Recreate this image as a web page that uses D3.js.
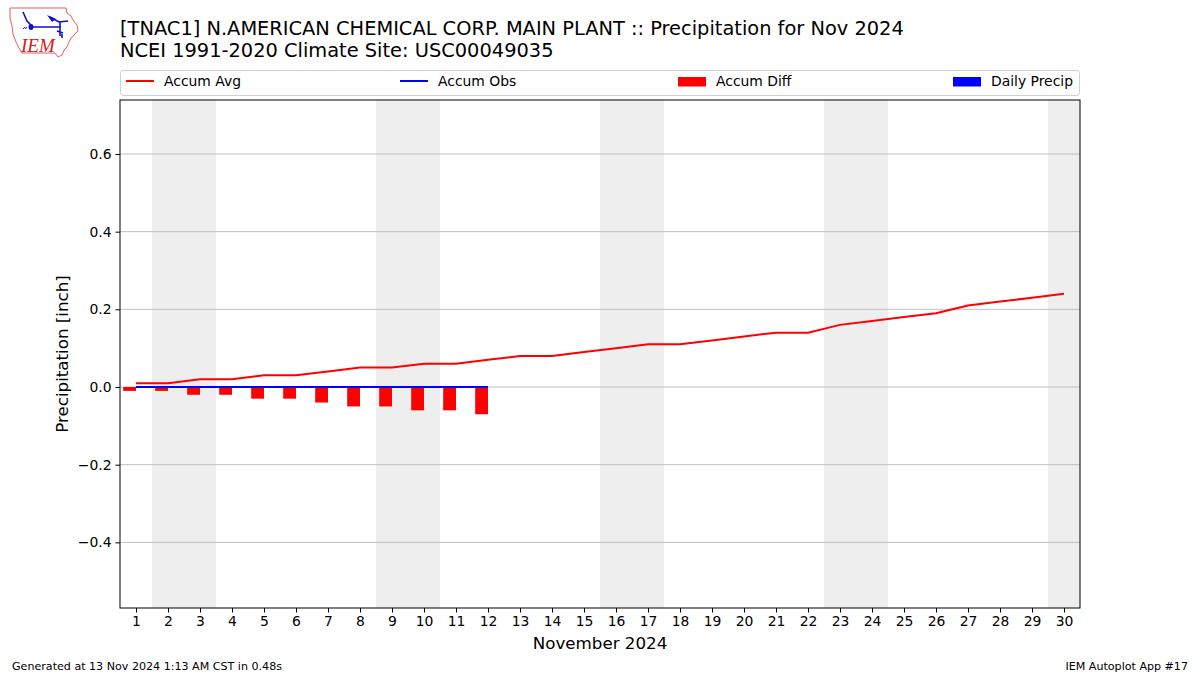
<!DOCTYPE html>
<html><head><meta charset="utf-8">
<script src="https://cdn.jsdelivr.net/npm/d3@7"></script>
<style>body{margin:0;background:#fff;}svg{display:block;font-family:"DejaVu Sans",sans-serif;}</style>
</head><body>
<svg id="c" width="1200" height="675"></svg>
<script>
const days = d3.range(1, 31);
const accumAvg = [0.01,0.01,0.02,0.02,0.03,0.03,0.04,0.05,0.05,0.06,0.06,0.07,0.08,0.08,0.09,0.10,0.11,0.11,0.12,0.13,0.14,0.14,0.16,0.17,0.18,0.19,0.21,0.22,0.23,0.24];
const obsDays = d3.range(1, 13);
const accumObs = [0,0,0,0,0,0,0,0,0,0,0,0];
const accumDiff = [-0.01,-0.01,-0.02,-0.02,-0.03,-0.03,-0.04,-0.05,-0.05,-0.06,-0.06,-0.07];
const dailyPrecip = [0,0,0,0,0,0,0,0,0,0,0,0];
const weekendDays = [2,3,9,10,16,17,23,24,30];
const yTicks = [-0.4,-0.2,0.0,0.2,0.4,0.6];
const titleLines = ["[TNAC1] N.AMERICAN CHEMICAL CORP. MAIN PLANT :: Precipitation for Nov 2024","NCEI 1991-2020 Climate Site: USC00049035"];

const svg = d3.select("#c");
const L=120,R=1080,T=100,B=608;
const x = d3.scaleLinear().domain([0.5,30.5]).range([L,R]);
const y = d3.scaleLinear().domain([-0.569,0.739]).range([B,T]);

// weekend shading
svg.append("g").selectAll("rect").data(weekendDays).join("rect")
  .attr("x", d=>x(d-0.5)).attr("width", d=>x(d+0.5)-x(d-0.5))
  .attr("y", T).attr("height", B-T).attr("fill", "#eeeeee");

// grid
svg.append("g").selectAll("line").data(yTicks).join("line")
  .attr("x1", L).attr("x2", R).attr("y1", d=>y(d)).attr("y2", d=>y(d))
  .attr("stroke", "#b0b0b0").attr("stroke-width", 0.8);

// diff bars (left of center)
const bw = 0.4;
svg.append("g").selectAll("rect").data(accumDiff).join("rect")
  .attr("x", (d,i)=>x(obsDays[i]-bw)).attr("width", x(bw)-x(0))
  .attr("y", d=>y(Math.max(0,d))).attr("height", d=>Math.abs(y(d)-y(0)))
  .attr("fill", "red");
// daily precip bars (right of center)
svg.append("g").selectAll("rect").data(dailyPrecip).join("rect")
  .attr("x", (d,i)=>x(obsDays[i])).attr("width", x(bw)-x(0))
  .attr("y", d=>y(Math.max(0,d))).attr("height", d=>Math.abs(y(d)-y(0)))
  .attr("fill", "blue");

const line = d3.line().x(d=>x(d[0])).y(d=>y(d[1]));
svg.append("path").attr("d", line(days.map((d,i)=>[d,accumAvg[i]])))
  .attr("fill","none").attr("stroke","red").attr("stroke-width",2);
svg.append("path").attr("d", line(obsDays.map((d,i)=>[d,accumObs[i]])))
  .attr("fill","none").attr("stroke","blue").attr("stroke-width",2);

// frame
svg.append("rect").attr("x",L).attr("y",T).attr("width",R-L).attr("height",B-T)
  .attr("fill","none").attr("stroke","#000").attr("stroke-width",1);

// axes
const fmt = d=> (d<0?"\u2212":"") + Math.abs(d).toFixed(1);
const ya = svg.append("g").attr("transform",`translate(${L},0)`)
  .call(d3.axisLeft(y).tickValues(yTicks).tickFormat(fmt).tickSize(4.5).tickPadding(4));
const xa = svg.append("g").attr("transform",`translate(0,${B})`)
  .call(d3.axisBottom(x).tickValues(days).tickFormat(d3.format("d")).tickSize(4.5).tickPadding(4));
[ya,xa].forEach(a=>{a.select(".domain").remove();
  a.selectAll("text").attr("font-size",13.9).attr("font-family","DejaVu Sans").attr("fill","#000");
  a.selectAll("line").attr("stroke","#000");});

svg.append("text").attr("x",x(15.5)).attr("y",649).attr("text-anchor","middle")
  .attr("font-size",16.7).text("November 2024");
svg.append("text").attr("transform",`translate(68,${(T+B)/2}) rotate(-90)`)
  .attr("text-anchor","middle").attr("font-size",16.7).text("Precipitation [inch]");

// title
svg.selectAll("text.title").data(titleLines).join("text").attr("class","title")
  .attr("x",120).attr("y",(d,i)=>35+i*22).attr("font-size",19.4).text(d=>d);

// legend
const lg = svg.append("g");
lg.append("rect").attr("x",120.5).attr("y",70.5).attr("width",959).attr("height",25)
  .attr("rx",3).attr("fill","#fff").attr("stroke","#d0d0d0");
const legItems = [
  {label:"Accum Avg", color:"red", type:"line", x:126},
  {label:"Accum Obs", color:"blue", type:"line", x:400},
  {label:"Accum Diff", color:"red", type:"rect", x:678},
  {label:"Daily Precip", color:"blue", type:"rect", x:953}
];
legItems.forEach(it=>{
  if(it.type==="line") lg.append("line").attr("x1",it.x).attr("x2",it.x+28).attr("y1",81).attr("y2",81)
    .attr("stroke",it.color).attr("stroke-width",2);
  else lg.append("rect").attr("x",it.x).attr("y",77).attr("width",28).attr("height",9.5).attr("fill",it.color);
  lg.append("text").attr("x",it.x+38).attr("y",86).attr("font-size",13.9).text(it.label);
});

// footer
svg.append("text").attr("x",12).attr("y",670).attr("font-size",11.1).text("Generated at 13 Nov 2024 1:13 AM CST in 0.48s");
svg.append("text").attr("x",1188).attr("y",670).attr("text-anchor","end").attr("font-size",11.1).text("IEM Autoplot App #17");

// logo
const lo = svg.append("g");
lo.append("path").attr("d","M10,8 L66,8 L67,13 L71,16 L73,20 L77,25 L78,31 L74,35 L71,38 L69,42 L67,47 L64,50 L62,55 L58,57 L55,53 L22,53 L19,48 L16,42 L13,34 L12,26 L10,18 Z")
  .attr("fill","#fff").attr("stroke","#e06060").attr("stroke-width",1);
lo.append("text").attr("x",21).attr("y",52).attr("font-family","Liberation Serif, serif").attr("font-style","italic")
  .attr("font-size",19).attr("fill","#d02020").text("IEM");
lo.append("path").attr("d","M33,27 L60,27 M60,21 L60,36 M50,17 L59,22 L68,21 M23,12 L27,21 L31,25 M57,31 L63,33 M62,34 L62,38")
  .attr("fill","none").attr("stroke","#1010cc").attr("stroke-width",1.6);
lo.append("ellipse").attr("cx",31).attr("cy",27).attr("rx",2.5).attr("ry",3).attr("fill","#1010cc");
lo.append("path").attr("d","M47,15 L56,19 L52,22 Z").attr("fill","#1010cc");
lo.append("path").attr("d","M23,29 L25,27 M25,29 L27,27").attr("stroke","#1010cc").attr("stroke-width",1);
</script>
</body></html>
